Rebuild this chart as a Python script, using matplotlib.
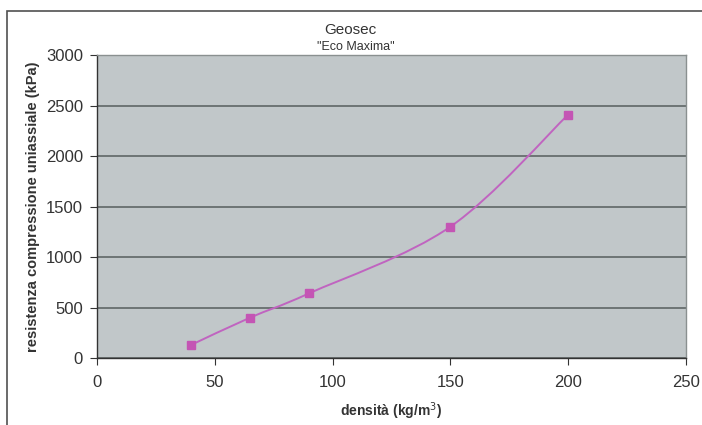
import matplotlib
matplotlib.use("Agg")
import matplotlib.pyplot as plt
import numpy as np
from matplotlib.path import Path
from matplotlib.patches import PathPatch, Rectangle
from matplotlib import font_manager

# dati
densita = [40, 65, 90, 150, 200]
resistenza = [130, 400, 640, 1300, 2410]
x_ticks = [0, 50, 100, 150, 200, 250]
y_ticks = [0, 500, 1000, 1500, 2000, 2500, 3000]

names = {f.name for f in font_manager.fontManager.ttflist}
narrow = "Liberation Sans Narrow" if "Liberation Sans Narrow" in names else "Liberation Sans"
plt.rcParams["font.family"] = [narrow, "DejaVu Sans"]


def smooth_path(xs, ys, tension=1.0 / 6.0):
    # curva tipo Excel (Catmull-Rom -> Bezier)
    pts = np.column_stack([xs, ys]).astype(float)
    verts = [pts[0]]
    codes = [Path.MOVETO]
    n = len(pts)
    for i in range(n - 1):
        p0 = pts[i - 1] if i > 0 else pts[i]
        p1 = pts[i]
        p2 = pts[i + 1]
        p3 = pts[i + 2] if i + 2 < n else pts[i + 1]
        c1 = p1 + (p2 - p0) * tension
        c2 = p2 - (p3 - p1) * tension
        verts += [c1, c2, p2]
        codes += [Path.CURVE4] * 3
    return Path(verts, codes)


fig = plt.figure(figsize=(7.02, 4.25), dpi=100)
fig.patch.set_facecolor("white")

# cornice esterna
fig.patches.append(Rectangle((7 / 702, -0.1), 1.2, 1 - 11 / 425 + 0.1,
                             transform=fig.transFigure, fill=False,
                             edgecolor="#505050", linewidth=1.2))

ax = fig.add_axes([97 / 702, 1 - 358 / 425, (686 - 97) / 702, (358 - 55) / 425])
ax.set_facecolor("#c1c7c9")

ax.set_xlim(0, 250)
ax.set_ylim(0, 3000)
ax.set_xticks(x_ticks)
ax.set_yticks(y_ticks)
ax.yaxis.grid(True, color="#5f6666", linewidth=1.2)
ax.set_axisbelow(True)

ax.add_patch(PathPatch(smooth_path(densita, resistenza), fill=False,
                       edgecolor="#c064c0", linewidth=1.4))
ax.plot(densita, resistenza, linestyle="none", marker="s", markersize=6,
        color="#c455b4")

for side in ["top", "right"]:
    ax.spines[side].set_color("#8a9090")
    ax.spines[side].set_linewidth(1.0)
for side in ["left", "bottom"]:
    ax.spines[side].set_color("#333333")
    ax.spines[side].set_linewidth(1.0)

ax.tick_params(axis="both", direction="out", length=5, color="#333333",
               labelsize=12, labelcolor="#333333")
ax.tick_params(axis="x", pad=7)
ax.tick_params(axis="y", pad=5)

ax.set_xlabel("densità (kg/m$^3$)", fontsize=10, fontweight="bold",
              color="#333333", labelpad=8)
ax.set_ylabel("resistenza compressione uniassiale (kPa)", fontsize=10.5,
              fontweight="bold", color="#333333", labelpad=4)

fig.text(350 / 702, 1 - 30 / 425, "Geosec", ha="center", va="center",
         fontsize=11, color="#333333")
fig.text(356 / 702, 1 - 47 / 425, "\"Eco Maxima\"", ha="center", va="center",
         fontsize=9, color="#333333")

fig.savefig("out.png", dpi=100)
